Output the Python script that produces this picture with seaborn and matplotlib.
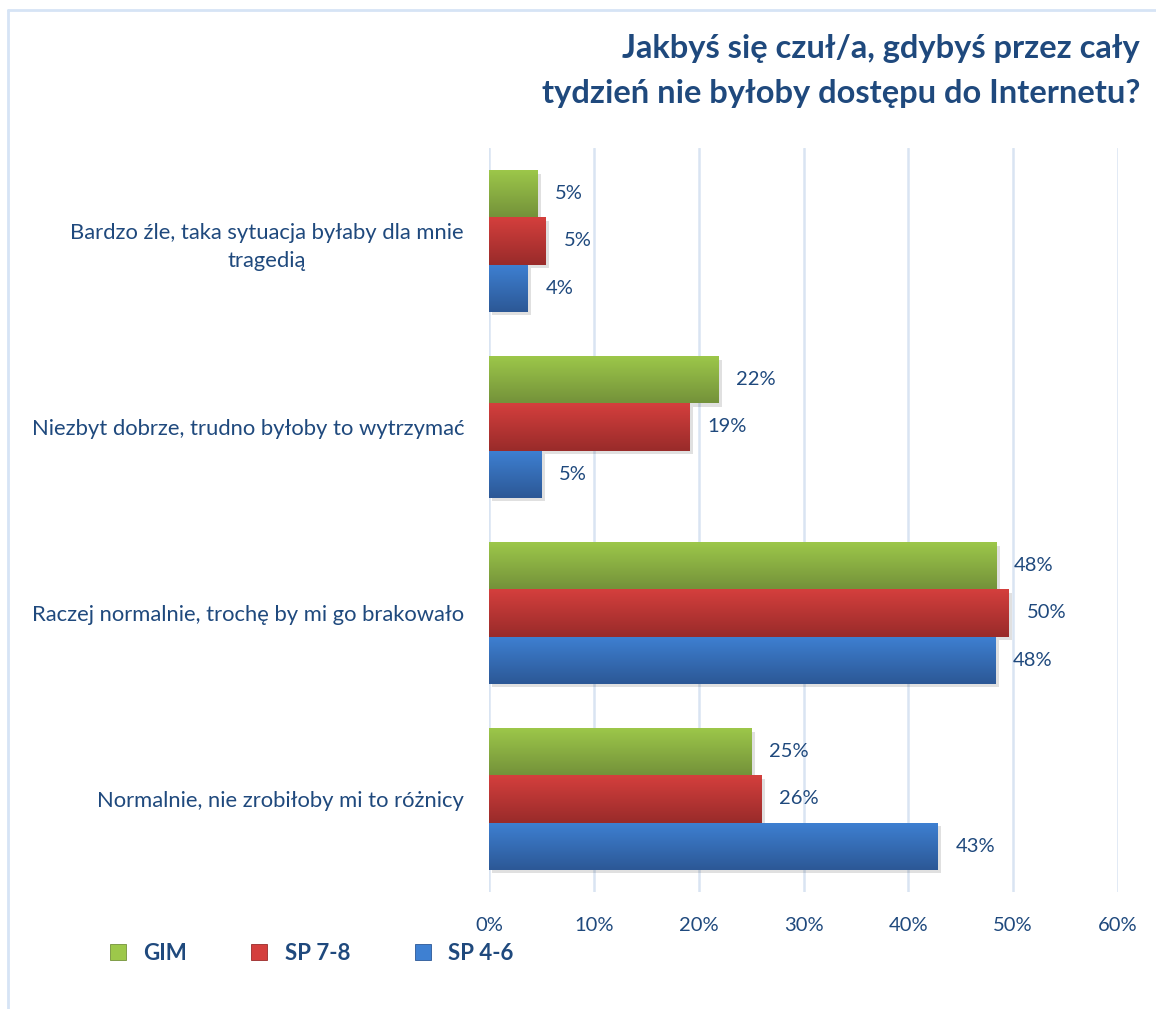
import matplotlib
matplotlib.use("Agg")
import matplotlib.pyplot as plt
import matplotlib.patheffects as pe
from matplotlib.colors import to_rgb
from matplotlib.lines import Line2D
import numpy as np
import pandas as pd
import seaborn as sns

categories = [
    "Bardzo źle, taka sytuacja byłaby dla mnie\ntragedią",
    "Niezbyt dobrze, trudno byłoby to wytrzymać",
    "Raczej normalnie, trochę by mi go brakowało",
    "Normalnie, nie zrobiłoby mi to różnicy",
]
series = ["GIM", "SP 7-8", "SP 4-6"]
gim = [4.6, 21.9, 48.4, 25.0]
sp78 = [5.4, 19.1, 49.6, 26.0]
sp46 = [3.7, 5.0, 48.3, 42.8]
xticks = [0, 10, 20, 30, 40, 50, 60]

title = "Jakbyś się czuł/a, gdybyś przez cały\ntydzień nie byłoby dostępu do Internetu?"

top_cols = {"GIM": "#9DC84A", "SP 7-8": "#D43F3D", "SP 4-6": "#3E80D2"}
bot_cols = {"GIM": "#74923A", "SP 7-8": "#992B2A", "SP 4-6": "#2C5896"}
text_col = "#1F497D"

df = pd.DataFrame({
    "cat": categories * 3,
    "series": [s for s in series for _ in categories],
    "value": gim + sp78 + sp46,
})

sns.set_theme(style="white")
plt.rcParams["font.family"] = ["Lato", "DejaVu Sans"]

fig = plt.figure(figsize=(11.56, 10.09), dpi=100)
ax = fig.add_axes([489 / 1156, 1 - 892 / 1009, (1118 - 489) / 1156, (892 - 148) / 1009])

sns.barplot(data=df, y="cat", x="value", hue="series", order=categories,
            hue_order=series, orient="h", width=0.76, gap=0,
            palette=top_cols, ax=ax, legend=False, errorbar=None, saturation=1)

ax.set_xlim(0, 60)
ylim = ax.get_ylim()

for container, s in zip(ax.containers, series):
    c1 = np.array(to_rgb(top_cols[s]))
    c2 = np.array(to_rgb(bot_cols[s]))
    grad = np.linspace(0, 1, 64)[:, None]
    img = (c1[None, :] * (1 - grad) + c2[None, :] * grad)[:, None, :]
    for bar, v in zip(container.patches, container.datavalues):
        x0, y0 = bar.get_x(), bar.get_y()
        w, h = bar.get_width(), bar.get_height()
        bar.set_facecolor("none")
        bar.set_edgecolor("none")
        bar.set_path_effects([pe.SimplePatchShadow(offset=(2.5, -2.5),
                                                   shadow_rgbFace="#000000",
                                                   alpha=0.12)])
        im = ax.imshow(img, extent=(x0, x0 + w, y0 + h, y0), origin="upper",
                       aspect="auto", zorder=3, interpolation="bilinear")
        im.set_clip_path(bar)
        ax.text(x0 + w + 1.7, y0 + h / 2, f"{round(v)}%", va="center",
                ha="left", fontsize=14.5, color=text_col)

ax.set_ylim(ylim)
ax.set_xlim(0, 60)
ax.set_xticks(xticks)
ax.set_xticklabels([f"{t}%" for t in xticks], fontsize=14.5, color=text_col)
ax.tick_params(axis="x", length=0, pad=18)
ax.tick_params(axis="y", length=0, pad=18)
for lbl in ax.get_yticklabels():
    lbl.set_fontsize(15.8)
    lbl.set_color(text_col)
    lbl.set_multialignment("center")
    lbl.set_linespacing(1.5)
ax.set_xlabel("")
ax.set_ylabel("")
for sp in ax.spines.values():
    sp.set_visible(False)
ax.grid(axis="x", color="#D9E4F2", linewidth=1.8)
ax.grid(axis="y", visible=False)
ax.set_axisbelow(True)

fig.text(1140 / 1156, 1 - 34 / 1009, title, ha="right", va="top",
         fontsize=23.5, fontweight="bold", color=text_col, linespacing=1.65)

handles = [Line2D([], [], marker="s", linestyle="none", markersize=11,
                  markerfacecolor=top_cols[s], markeredgecolor=bot_cols[s],
                  markeredgewidth=0.6)
           for s in series]
leg = fig.legend(handles, series, loc="center left",
                 bbox_to_anchor=(90 / 1156, 1 - 953 / 1009), ncol=3,
                 frameon=False, handlelength=0.7, handletextpad=0.8,
                 columnspacing=2.9,
                 prop={"size": 16, "weight": "bold"})
for t in leg.get_texts():
    t.set_color(text_col)

# frame lines
fig.add_artist(Line2D([8 / 1156, 8 / 1156], [0, 1 - 10 / 1009],
                      transform=fig.transFigure, color="#D6E4F5", linewidth=2))
fig.add_artist(Line2D([8 / 1156, 1], [1 - 10 / 1009, 1 - 10 / 1009],
                      transform=fig.transFigure, color="#D6E4F5", linewidth=2))

fig.savefig("out.png", dpi=100, facecolor="white")
